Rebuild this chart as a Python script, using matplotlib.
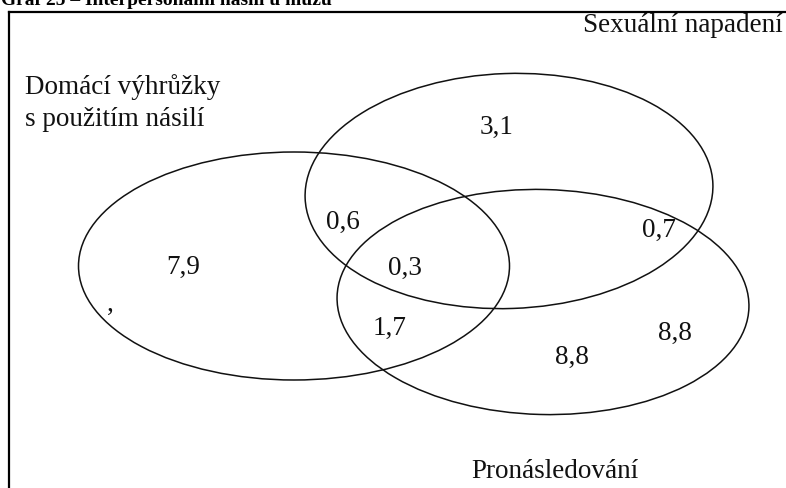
import matplotlib
matplotlib.use("Agg")
import matplotlib.pyplot as plt
from matplotlib.patches import Ellipse

# ---- data ----
title = "Graf 25 – Interpersonální násilí u mužů"
set_names = ["Domácí výhrůžky\ns použitím násilí", "Sexuální napadení", "Pronásledování"]
region_values = ["3,1", "0,6", "0,7", "7,9", "0,3", "1,7", "8,8", "8,8"]
stray_mark = ","

# ---- layout (pixel coordinates of the canvas, y downward) ----
W, H = 786, 488
ellipses = [  # (cx, cy, width, height, angle)
    (294, 266, 431, 228, 0.0),
    (509, 191, 408, 235, 2.0),
    (543, 302, 412, 225, -1.5),
]
value_pos = [(497, 127), (343, 222), (659, 230), (183, 267), (405, 268),
             (390, 328), (572, 357), (675, 333)]
stray_pos = (110, 304)
name_pos = [(25, 103, "left"), (783, 25, "right"), (555, 472, "center")]

plt.rcParams["font.family"] = ["Liberation Serif", "DejaVu Serif"]
fig = plt.figure(figsize=(W / 100, H / 100), dpi=100)
ax = fig.add_axes([0, 0, 1, 1])
ax.set_xlim(0, W)
ax.set_ylim(H, 0)
ax.axis("off")

# frame (top and left border of the box)
ax.plot([9, 9], [H + 5, 12], color="black", lw=1.6, solid_capstyle="projecting")
ax.plot([9, W + 5], [12, 12], color="black", lw=1.6, solid_capstyle="projecting")

# cut-off title (cropped at the top edge as in the reference)
ax.text(1, 5, title, fontsize=14, fontweight="bold", ha="left", va="baseline",
        color="black")

for (cx, cy, w, h, ang) in ellipses:
    ax.add_patch(Ellipse((cx, cy), w, h, angle=-ang, fill=False,
                         edgecolor="#111111", lw=1.1))

fs = 19.5
for v, (x, y) in zip(region_values, value_pos):
    ax.text(x, y, v, fontsize=fs, ha="center", va="center", color="#111111")
ax.text(stray_pos[0], stray_pos[1], stray_mark, fontsize=fs, ha="center",
        va="center", color="#111111")

for name, (x, y, ha) in zip(set_names, name_pos):
    ax.text(x, y, name, fontsize=fs, ha=ha, va="center", color="#111111",
            linespacing=1.4)

fig.savefig("out.png", dpi=100)
